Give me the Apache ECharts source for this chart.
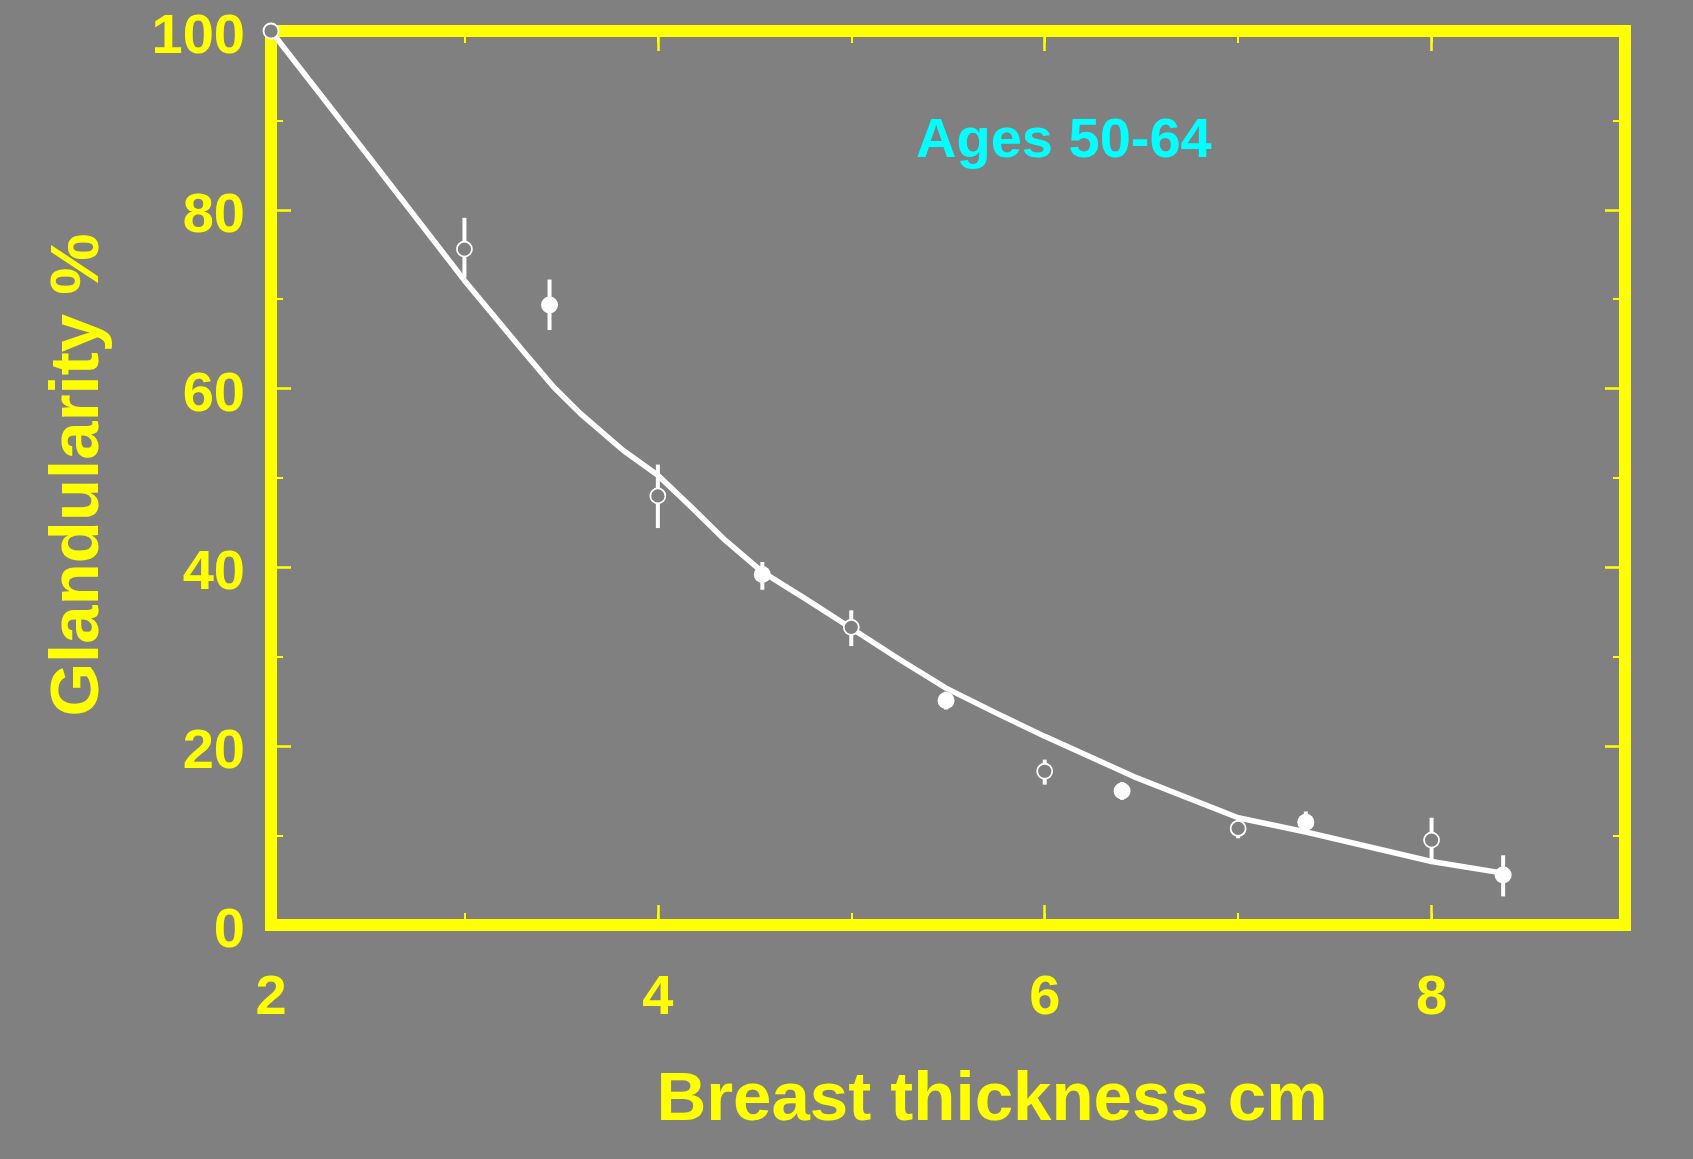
<!DOCTYPE html>
<html>
<head>
<meta charset="utf-8">
<script src="https://cdn.jsdelivr.net/npm/echarts@6/dist/echarts.min.js"></script>
<style>
  html, body { margin: 0; padding: 0; background: #808080; }
  #chart { width: 1693px; height: 1159px; }
</style>
</head>
<body>
<div id="chart"></div>
<script>
// ---- Data ----
// Fitted curve (thickness cm, glandularity %)
const curveX = [2.0, 2.5, 3.0, 3.3, 3.46, 3.6, 3.82, 4.0, 4.17, 4.34, 4.54, 4.77, 5.0, 5.25, 5.49, 5.75, 6.0, 6.46, 7.0, 7.35, 8.0, 8.37];
const curveY = [100, 86.1, 72.1, 64.3, 60.2, 57.2, 53.1, 50.3, 46.8, 43.2, 39.5, 36.4, 33.2, 29.7, 26.5, 23.7, 21.1, 16.6, 12.0, 10.4, 7.1, 5.8];

// Open-circle points
const openX  = [2, 3, 4, 5, 6, 7, 8];
const openY  = [100, 75.6, 48.0, 33.3, 17.2, 10.8, 9.5];
const openHi = [100, 79.1, 51.5, 35.2, 18.5, 11.8, 12.0];
const openLo = [100, 72.4, 44.4, 31.2, 15.7, 9.7, 7.3];

// Filled points
const fillX  = [3.44, 4.54, 5.49, 6.40, 7.35, 8.37];
const fillY  = [69.35, 39.2, 25.1, 15.0, 11.5, 5.6];
const fillHi = [72.2, 40.6, 26.1, 16.0, 12.7, 7.8];
const fillLo = [66.55, 37.5, 24.1, 14.0, 10.4, 3.2];

// Axis ticks / labels
const xLabels = [2, 4, 6, 8];
const yLabels = [0, 20, 40, 60, 80, 100];

const xTitle = 'Breast thickness cm';
const yTitle = 'Glandularity %';
const noteText = 'Ages 50-64';

// ---- Build ----
const YEL = '#ffff00';
const FONT = '"Liberation Sans", Arial, Helvetica, sans-serif';

const curveData = curveX.map((x, i) => [x, curveY[i]]);
const openData = openX.map((x, i) => [x, openY[i]]);
const fillData = fillX.map((x, i) => [x, fillY[i]]);
const errData = openX.map((x, i) => [x, openLo[i], openHi[i]])
  .concat(fillX.map((x, i) => [x, fillLo[i], fillHi[i]]));

function xAxisDef(pos, interval, tickLen, showLabel) {
  return {
    type: 'value', position: pos, min: 2, max: 9, interval: interval,
    axisLine: { show: false, onZero: false },
    splitLine: { show: false },
    axisTick: { show: true, inside: true, length: tickLen, lineStyle: { color: YEL, width: tickLen > 15 ? 2.5 : 2 } },
    axisLabel: showLabel ? {
      show: true, margin: 46, color: YEL, fontSize: 56, fontWeight: 'bold', fontFamily: FONT,
      formatter: v => (xLabels.indexOf(v) >= 0 ? String(v) : '')
    } : { show: false },
    name: showLabel ? xTitle : '',
    nameLocation: 'middle', nameGap: 141,
    nameTextStyle: { color: YEL, fontSize: 69, fontWeight: 'bold', fontFamily: FONT, padding: [0, 0, 0, 88] }
  };
}
function yAxisDef(pos, showLabel) {
  return {
    type: 'value', position: pos, min: 0, max: 100, interval: 20,
    axisLine: { show: false, onZero: false },
    splitLine: { show: false },
    axisTick: { show: true, inside: true, length: 20, lineStyle: { color: YEL, width: 2.5 } },
    minorTick: { show: true, splitNumber: 2, length: 12, lineStyle: { color: YEL, width: 2 } },
    axisLabel: showLabel ? {
      show: true, margin: 26, color: YEL, fontSize: 56, fontWeight: 'bold', fontFamily: FONT,
      formatter: v => (yLabels.indexOf(v) >= 0 ? '{t|' + v + '}' : ''),
      rich: { t: { color: YEL, fontSize: 56, fontWeight: 'bold', fontFamily: FONT, padding: [13, 0, 0, 0] } }
    } : { show: false },
    name: showLabel ? yTitle : '',
    nameLocation: 'middle', nameGap: 158,
    nameTextStyle: { color: YEL, fontSize: 69, fontWeight: 'bold', fontFamily: FONT, padding: [0, 0, 0, 6] }
  };
}

const chart = echarts.init(document.getElementById('chart'), null, { renderer: 'canvas' });
chart.setOption({
  backgroundColor: '#808080',
  animation: false,
  grid: {
    left: 271, right: 68, top: 31, bottom: 234,
    show: true, borderColor: YEL, borderWidth: 12, backgroundColor: 'transparent'
  },
  xAxis: [
    xAxisDef('bottom', 2, 20, true),
    xAxisDef('bottom', 1, 12, false),
    xAxisDef('top', 2, 20, false),
    xAxisDef('top', 1, 12, false)
  ],
  yAxis: [
    yAxisDef('left', true),
    yAxisDef('right', false)
  ],
  graphic: [{
    type: 'text', left: 916, top: 114, z: 10,
    style: { text: noteText, fill: '#00ffff', font: 'bold 56px ' + FONT }
  }],
  series: [
    {
      type: 'line', data: curveData, xAxisIndex: 0, yAxisIndex: 0,
      showSymbol: false, smooth: false, clip: false, z: 2,
      lineStyle: { color: '#ffffff', width: 5.5, join: 'round' }
    },
    {
      type: 'custom', data: errData, xAxisIndex: 0, yAxisIndex: 0, clip: false, z: 3,
      encode: { x: 0, y: [1, 2] },
      renderItem: function (params, api) {
        const p1 = api.coord([api.value(0), api.value(1)]);
        const p2 = api.coord([api.value(0), api.value(2)]);
        return { type: 'line', shape: { x1: p1[0], y1: p1[1], x2: p2[0], y2: p2[1] },
                 style: { stroke: '#ffffff', lineWidth: 4 } };
      }
    },
    {
      type: 'scatter', data: openData, xAxisIndex: 0, yAxisIndex: 0, clip: false, z: 5,
      symbol: 'circle', symbolSize: 15,
      itemStyle: { color: '#808080', borderColor: '#ffffff', borderWidth: 1.8, opacity: 1 }
    },
    {
      type: 'scatter', data: fillData, xAxisIndex: 0, yAxisIndex: 0, clip: false, z: 5,
      symbol: 'circle', symbolSize: 17,
      itemStyle: { color: '#ffffff', opacity: 1 }
    }
  ]
});
</script>
</body>
</html>
